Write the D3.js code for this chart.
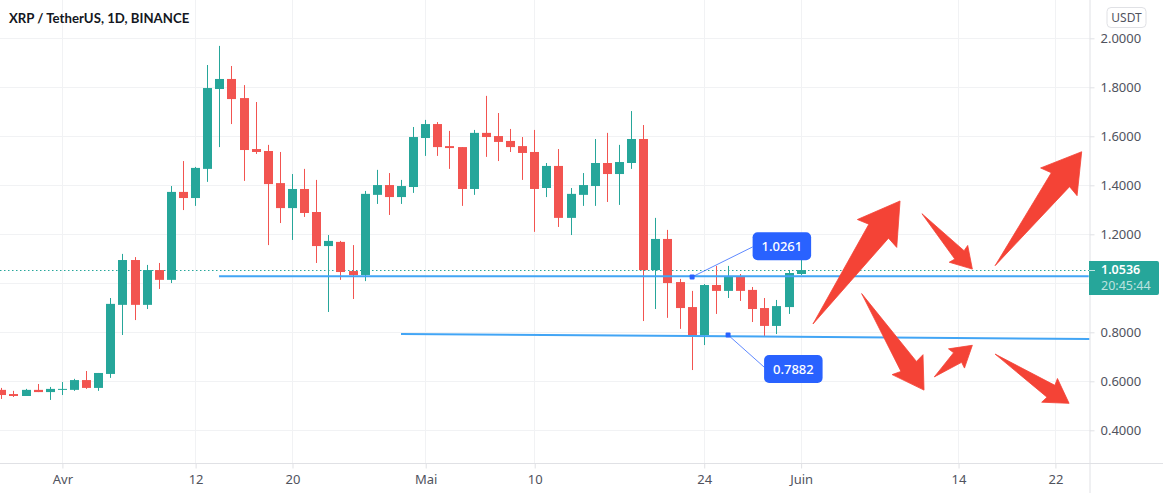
<!DOCTYPE html>
<html><head><meta charset="utf-8">
<script src="https://cdnjs.cloudflare.com/ajax/libs/d3/7.8.5/d3.min.js"></script>
<style>html,body{margin:0;padding:0;background:#fff;overflow:hidden}svg{display:block}text{font-family:"Noto Sans","Open Sans",sans-serif}</style>
</head><body><svg id="c" width="1163" height="493"></svg>
<script>
const title = "XRP / TetherUS, 1D, BINANCE";
const currency = "USDT";
const firstDay = "2021-03-27";
const opens = [.565,.548,.540,.565,.556,.565,.565,.605,.573,.630,.912,1.095,.912,1.054,1.014,1.373,1.348,1.467,1.793,1.834,1.756,1.548,1.540,1.409,1.307,1.385,1.291,1.152,1.169,1.050,1.034,1.361,1.401,1.352,1.393,1.593,1.650,1.560,1.556,1.385,1.614,1.601,1.581,1.560,1.536,1.389,1.479,1.267,1.361,1.397,1.491,1.446,1.491,1.589,1.054,1.181,1.005,.903,.789,.993,.969,1.026,.973,.899,.826,.903,1.038];
const highs = [.573,.561,.569,.589,.577,.597,.610,.642,.634,.940,1.120,1.107,1.075,1.083,1.397,1.499,1.475,1.891,1.969,1.887,1.809,1.740,1.565,1.536,1.446,1.467,1.422,1.197,1.173,1.156,1.377,1.463,1.450,1.422,1.638,1.667,1.658,1.622,1.556,1.626,1.765,1.695,1.630,1.597,1.626,1.491,1.548,1.389,1.450,1.589,1.614,1.565,1.703,1.646,1.267,1.218,1.018,.969,.997,1.071,1.071,1.038,.985,.940,.932,1.054,1.095];
const lows = [.528,.536,.540,.556,.524,.544,.561,.569,.561,.614,.789,.850,.895,.977,1.001,1.299,1.316,1.414,1.556,1.650,1.418,1.528,1.156,1.246,1.177,1.271,1.083,.883,1.014,.936,1.009,1.324,1.279,1.324,1.369,1.520,1.520,1.467,1.316,1.361,1.516,1.499,1.536,1.422,1.210,1.352,1.230,1.197,1.316,1.316,1.332,1.320,1.467,.846,.895,.859,.814,.646,.748,.875,.940,.928,.842,.785,.793,.875,1.034];
const closes = [.544,.540,.565,.556,.569,.569,.605,.573,.634,.916,1.095,.912,1.054,1.014,1.373,1.348,1.471,1.797,1.834,1.752,1.544,1.536,1.405,1.307,1.385,1.287,1.152,1.173,1.046,1.034,1.365,1.401,1.352,1.397,1.597,1.650,1.556,1.552,1.385,1.614,1.597,1.577,1.556,1.532,1.385,1.479,1.267,1.365,1.401,1.491,1.446,1.495,1.589,1.054,1.181,1.001,.899,.789,.993,.969,1.026,.969,.895,.826,.907,1.042,1.054];
const gridPrices = [2,1.8,1.6,1.4,1.2,1,.8,.6,.4];
const priceTicks = [2,1.8,1.6,1.4,1.2,.8,.6,.4];
const timeTickDays = ["2021-04-01","2021-04-12","2021-04-20","2021-05-01","2021-05-10","2021-05-24","2021-06-01","2021-06-14","2021-06-22"];
const timeTickLabels = ["Avr","12","20","Mai","10","24","Juin","14","22"];
const lastPrice = 1.0536;
const countdown = "20:45:44";
// annotations, in [days after 1 Apr, price]
const supportLine = [[12.93,1.029],[84.75,1.029]];
const lowerLine = [[27.96,.793],[84.86,.773]];
const calloutAnchors = [[52.0,1.026],[54.97,.789]];
const calloutTexts = ["1.0261","0.7882"];
const arrowTails = [[61.98,.834],[70.98,1.284],[77.02,1.072],[66.0,.958],[72.0,.618],[77.02,.711]];
const arrowHeads = [[69.17,1.336],[75.14,1.058],[84.17,1.537],[71.15,.564],[75.14,.747],[83.13,.510]];

const svg = d3.select("#c");
const paneR = 1089.5, paneB = 463.5;
const up = "#26a69a", down = "#f25450", gridC = "#f1f2f4", axisC = "#e0e1e5", textC = "#50535e";
const parse = d3.utcParse("%Y-%m-%d");
const apr1 = parse("2021-04-01");
const x = d3.scaleUtc().domain([apr1, d3.utcDay.offset(apr1, 91)]).range([62.4, 62.4 + 91 * 12.11]);
const y = d3.scaleLinear().domain([.4, 2]).range([430.3, 38.3]);
const xd = d => x(new Date(+apr1 + d * 864e5));
const px = d => Math.floor(x(d)) + .5;
const line2 = d3.line().x(p => xd(p[0])).y(p => y(p[1]));

svg.append("defs").append("clipPath").attr("id","pane").append("rect").attr("width",paneR).attr("height",paneB);
const pane = svg.append("g").attr("clip-path","url(#pane)");

// grid
pane.append("g").selectAll("line").data(gridPrices).join("line")
  .attr("x1",0).attr("x2",paneR).attr("y1",d=>Math.round(y(d))+.5).attr("y2",d=>Math.round(y(d))+.5)
  .attr("stroke",gridC);
const tickDates = timeTickDays.map(parse);
pane.append("g").selectAll("line").data(tickDates).join("line")
  .attr("x1",px).attr("x2",px).attr("y1",0).attr("y2",paneB).attr("stroke",gridC);

// last price dotted line
pane.append("line").attr("x1",0).attr("x2",paneR).attr("y1",Math.round(y(lastPrice))+.5).attr("y2",Math.round(y(lastPrice))+.5)
  .attr("stroke",up).attr("stroke-dasharray","1.5 2.5");

// candles
const start = parse(firstDay);
const candles = opens.map((o,i)=>({date:d3.utcDay.offset(start,i),o,h:highs[i],l:lows[i],c:closes[i]}));
const g = pane.append("g").selectAll("g").data(candles).join("g")
  .attr("fill",d=>d.c>=d.o?up:down);
g.append("rect").attr("x",d=>px(d.date)-.5).attr("width",1).attr("y",d=>y(d.h)).attr("height",d=>y(d.l)-y(d.h));
g.append("rect").attr("x",d=>px(d.date)-4.5).attr("width",9)
  .attr("y",d=>y(Math.max(d.o,d.c))).attr("height",d=>Math.max(1,y(Math.min(d.o,d.c))-y(Math.max(d.o,d.c))));

// trend lines
[supportLine,lowerLine].forEach(l=>pane.append("path").attr("d",line2(l)).attr("fill","none").attr("stroke","#42a5f5").attr("stroke-width",2));

// callouts
const calloutBox = [{dx:60.5,dy:-44.7,lineDx:60.5,lineDy:-30},{dx:36,dy:20,lineDx:36.5,lineDy:32.5}];
calloutAnchors.forEach((a,i)=>{
  const ax=xd(a[0]), ay=y(a[1]), b=calloutBox[i];
  svg.append("line").attr("x1",ax).attr("y1",ay).attr("x2",ax+b.lineDx).attr("y2",ay+b.lineDy).attr("stroke","#2962ff").attr("stroke-opacity",.75);
  svg.append("rect").attr("x",ax-2.5).attr("y",ay-2.5).attr("width",5).attr("height",5).attr("rx",1).attr("fill","#2962ff");
  svg.append("rect").attr("x",ax+b.dx).attr("y",ay+b.dy).attr("width",58.5).attr("height",28).attr("rx",5).attr("fill","#2962ff");
  svg.append("text").attr("x",ax+b.dx+29.25).attr("y",ay+b.dy+14).attr("text-anchor","middle").attr("dominant-baseline","central")
    .attr("fill","#fff").attr("font-size",13).attr("font-weight",500).text(calloutTexts[i]);
});

// arrows
arrowTails.forEach((t,i)=>{
  const h=arrowHeads[i];
  const T=[xd(t[0]),y(t[1])], H=[xd(h[0]),y(h[1])];
  const L=Math.hypot(H[0]-T[0],H[1]-T[1]), u=[(H[0]-T[0])/L,(H[1]-T[1])/L], n=[-u[1],u[0]];
  const hw=Math.max(12.5,.16*L), hl=hw*1.65, sw=hw*.5, sl=hl*.93;
  const at=(along,perp)=>[H[0]-u[0]*along+n[0]*perp,H[1]-u[1]*along+n[1]*perp];
  svg.append("path").attr("d",d3.line()([T,at(sl,sw),at(hl,hw),H,at(hl,-hw),at(sl,-sw)])+"Z")
    .attr("fill","#f44336").attr("stroke","#f44336").attr("stroke-width",.8).attr("stroke-linejoin","round");
});

// price axis
const yAxis = d3.axisRight(y).tickValues(priceTicks).tickSize(5).tickPadding(6).tickFormat(d3.format(".4f"));
const ya = svg.append("g").attr("transform",`translate(${paneR},0)`).call(yAxis);
ya.select(".domain").attr("stroke",axisC).attr("d",`M0.5,0V493`);
ya.selectAll(".tick line").attr("stroke",axisC);
ya.selectAll(".tick text").attr("fill",textC).attr("font-size",13).style("font-family",'"Noto Sans",sans-serif');

// time axis
const xAxis = d3.axisBottom(x).tickValues(tickDates).tickSize(5).tickPadding(6).tickFormat((d,i)=>timeTickLabels[i]);
const xa = svg.append("g").attr("transform",`translate(0,${paneB})`).call(xAxis);
xa.select(".domain").attr("stroke",axisC).attr("d",`M0,0.5H1163`).attr("transform","translate(0,-0.5)");
xa.selectAll(".tick line").attr("stroke",axisC);
xa.selectAll(".tick text").attr("fill",textC).attr("font-size",13).style("font-family",'"Noto Sans",sans-serif');

// last price label
const ly=y(lastPrice);
svg.append("path").attr("d","M1089,261H1157a2,2 0 0 1 2,2V293a2,2 0 0 1 -2,2H1089Z").attr("fill",up);
svg.append("line").attr("x1",1089).attr("x2",1095).attr("y1",Math.round(ly)+.5).attr("y2",Math.round(ly)+.5).attr("stroke","#fff").attr("stroke-opacity",.7);
svg.append("text").attr("x",1101).attr("y",ly+4).attr("fill","#fff").attr("font-size",12.5).attr("font-weight",600).text(d3.format(".4f")(lastPrice));
svg.append("text").attr("x",1101).attr("y",290).attr("fill","#fff").attr("fill-opacity",.7).attr("font-size",12.5).text(countdown);

// currency box
svg.append("rect").attr("x",1107).attr("y",7.5).attr("width",39).attr("height",20).attr("rx",4).attr("fill","#fff").attr("stroke",axisC);
svg.append("text").attr("x",1126.5).attr("y",17.5).attr("text-anchor","middle").attr("dominant-baseline","central").attr("fill",textC).attr("font-size",12).text(currency);

// title
svg.append("text").attr("x",9).attr("y",23).attr("fill","#131722").attr("font-size",13.2).attr("font-weight",700).style("font-family","Lato,sans-serif").text(title);
</script></body></html>
